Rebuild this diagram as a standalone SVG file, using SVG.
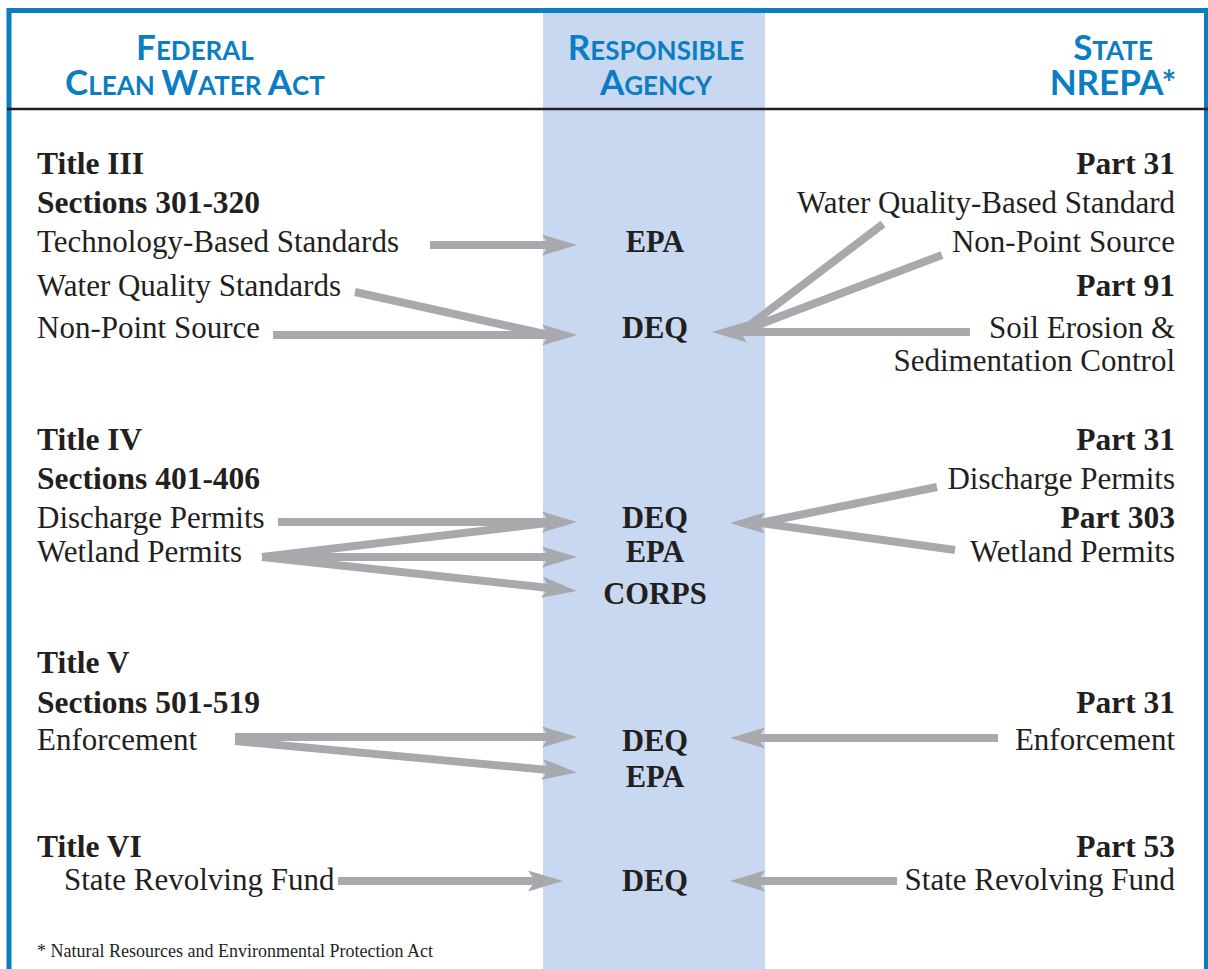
<svg xmlns="http://www.w3.org/2000/svg" width="1208" height="969" viewBox="0 0 1208 969">
<style>
.hd{font-family:Lato,"Open Sans","Liberation Sans",sans-serif;font-weight:700;fill:#0b7dc3;text-anchor:middle}
.big{font-size:35px}
.sm{font-size:26px}
.t{font-family:"Liberation Serif","Times New Roman",serif;font-size:31px;fill:#231f20}
.b{font-weight:700;font-size:31.5px}
.r{text-anchor:end}
.c{text-anchor:middle;font-weight:700;font-size:30.5px}
.ar{stroke:#a7a9ac;stroke-width:8;fill:none}
.ah{marker-end:url(#head)}
</style>
<defs>
<marker id="head" markerUnits="userSpaceOnUse" viewBox="-8 -11 37 22" markerWidth="37" markerHeight="22" refX="0" refY="0" orient="auto">
<path d="M28,0 L-7,-10.5 L0,0 L-7,10.5 Z" fill="#a7a9ac"/>
</marker>
</defs>
<rect x="0" y="0" width="1208" height="969" fill="#ffffff"/>
<rect id="agency-band" x="543" y="12" width="222" height="957" fill="#c7d8f0"/>
<path id="frame" d="M9,969 V10.5 H1206.5 V969" fill="none" stroke="#0b7dc3" stroke-width="5"/>
<line x1="7" y1="109" x2="1208" y2="109" stroke="#231f20" stroke-width="2.5"/>

<g id="header-federal">
<text class="hd" x="195" y="60"><tspan class="big">F</tspan><tspan class="sm">EDERAL</tspan></text>
<text class="hd" x="195" y="95"><tspan class="big">C</tspan><tspan class="sm">LEAN </tspan><tspan class="big">W</tspan><tspan class="sm">ATER </tspan><tspan class="big">A</tspan><tspan class="sm">CT</tspan></text>
</g>
<g id="header-agency">
<text class="hd" x="656" y="60"><tspan class="big">R</tspan><tspan class="sm">ESPONSIBLE</tspan></text>
<text class="hd" x="656" y="95"><tspan class="big">A</tspan><tspan class="sm">GENCY</tspan></text>
</g>
<g id="header-state">
<text class="hd" x="1113" y="60"><tspan class="big">S</tspan><tspan class="sm">TATE</tspan></text>
<text class="hd big" x="1113" y="95">NREPA*</text>
</g>

<g id="connectors">
<path class="ar ah" d="M430,245 L549,245"/>
<path class="ar" d="M355,292 L549,335"/>
<path class="ar ah" d="M273,335 L549,335"/>
<path class="ar" d="M883,224 L742,331"/>
<path class="ar" d="M942,255 L742,331"/>
<path class="ar ah" d="M970,332 L740,332"/>

<path class="ar ah" d="M278,522 L549,522"/>
<path class="ar" d="M262,557 L547,523"/>
<path class="ar ah" d="M262,557 L549,557"/>
<path class="ar ah" d="M262,557 L549,588"/>
<path class="ar" d="M937,487 L760,523"/>
<path class="ar" d="M955,550 L760,523"/>
<path class="ar ah" d="M766,523 L758,523"/>

<path class="ar ah" d="M235,737 L549,737"/>
<path class="ar ah" d="M235,741 L549,770"/>
<path class="ar ah" d="M998,738 L758,738"/>

<path class="ar ah" d="M338,881 L535,881"/>
<path class="ar ah" d="M897,881 L758,881"/>
</g>

<g id="federal-title3">
<text class="t b" x="37" y="174">Title III</text>
<text class="t b" x="37" y="213">Sections 301-320</text>
<text class="t" x="37" y="252">Technology-Based Standards</text>
<text class="t" x="37" y="296">Water Quality Standards</text>
<text class="t" x="37" y="338">Non-Point Source</text>
</g>
<g id="federal-title4">
<text class="t b" x="37" y="450">Title IV</text>
<text class="t b" x="37" y="489">Sections 401-406</text>
<text class="t" x="37" y="528">Discharge Permits</text>
<text class="t" x="37" y="562">Wetland Permits</text>
</g>
<g id="federal-title5">
<text class="t b" x="37" y="673">Title V</text>
<text class="t b" x="37" y="713">Sections 501-519</text>
<text class="t" x="37" y="750">Enforcement</text>
</g>
<g id="federal-title6">
<text class="t b" x="37" y="857">Title VI</text>
<text class="t" x="64" y="890">State Revolving Fund</text>
</g>

<g id="agency-epa-1"><text class="t c" x="655" y="252">EPA</text></g>
<g id="agency-deq-1"><text class="t c" x="655" y="338">DEQ</text></g>
<g id="agency-deq-2"><text class="t c" x="655" y="528">DEQ</text></g>
<g id="agency-epa-2"><text class="t c" x="655" y="562">EPA</text></g>
<g id="agency-corps"><text class="t c" x="655" y="604">CORPS</text></g>
<g id="agency-deq-3"><text class="t c" x="655" y="751">DEQ</text></g>
<g id="agency-epa-3"><text class="t c" x="655" y="787">EPA</text></g>
<g id="agency-deq-4"><text class="t c" x="655" y="891">DEQ</text></g>

<g id="state-part31-91">
<text class="t b r" x="1175" y="174">Part 31</text>
<text class="t r" x="1175" y="213">Water Quality-Based Standard</text>
<text class="t r" x="1175" y="252">Non-Point Source</text>
<text class="t b r" x="1175" y="296">Part 91</text>
<text class="t r" x="1175" y="338">Soil Erosion &amp;</text>
<text class="t r" x="1175" y="371">Sedimentation Control</text>
</g>
<g id="state-part31-303">
<text class="t b r" x="1175" y="450">Part 31</text>
<text class="t r" x="1175" y="489">Discharge Permits</text>
<text class="t b r" x="1175" y="528">Part 303</text>
<text class="t r" x="1175" y="562">Wetland Permits</text>
</g>
<g id="state-part31-enf">
<text class="t b r" x="1175" y="713">Part 31</text>
<text class="t r" x="1175" y="750">Enforcement</text>
</g>
<g id="state-part53">
<text class="t b r" x="1175" y="857">Part 53</text>
<text class="t r" x="1175" y="890">State Revolving Fund</text>
</g>

<text id="footnote" x="37" y="957" font-family="Liberation Serif, serif" font-size="18" fill="#231f20">* Natural Resources and Environmental Protection Act</text>
</svg>
